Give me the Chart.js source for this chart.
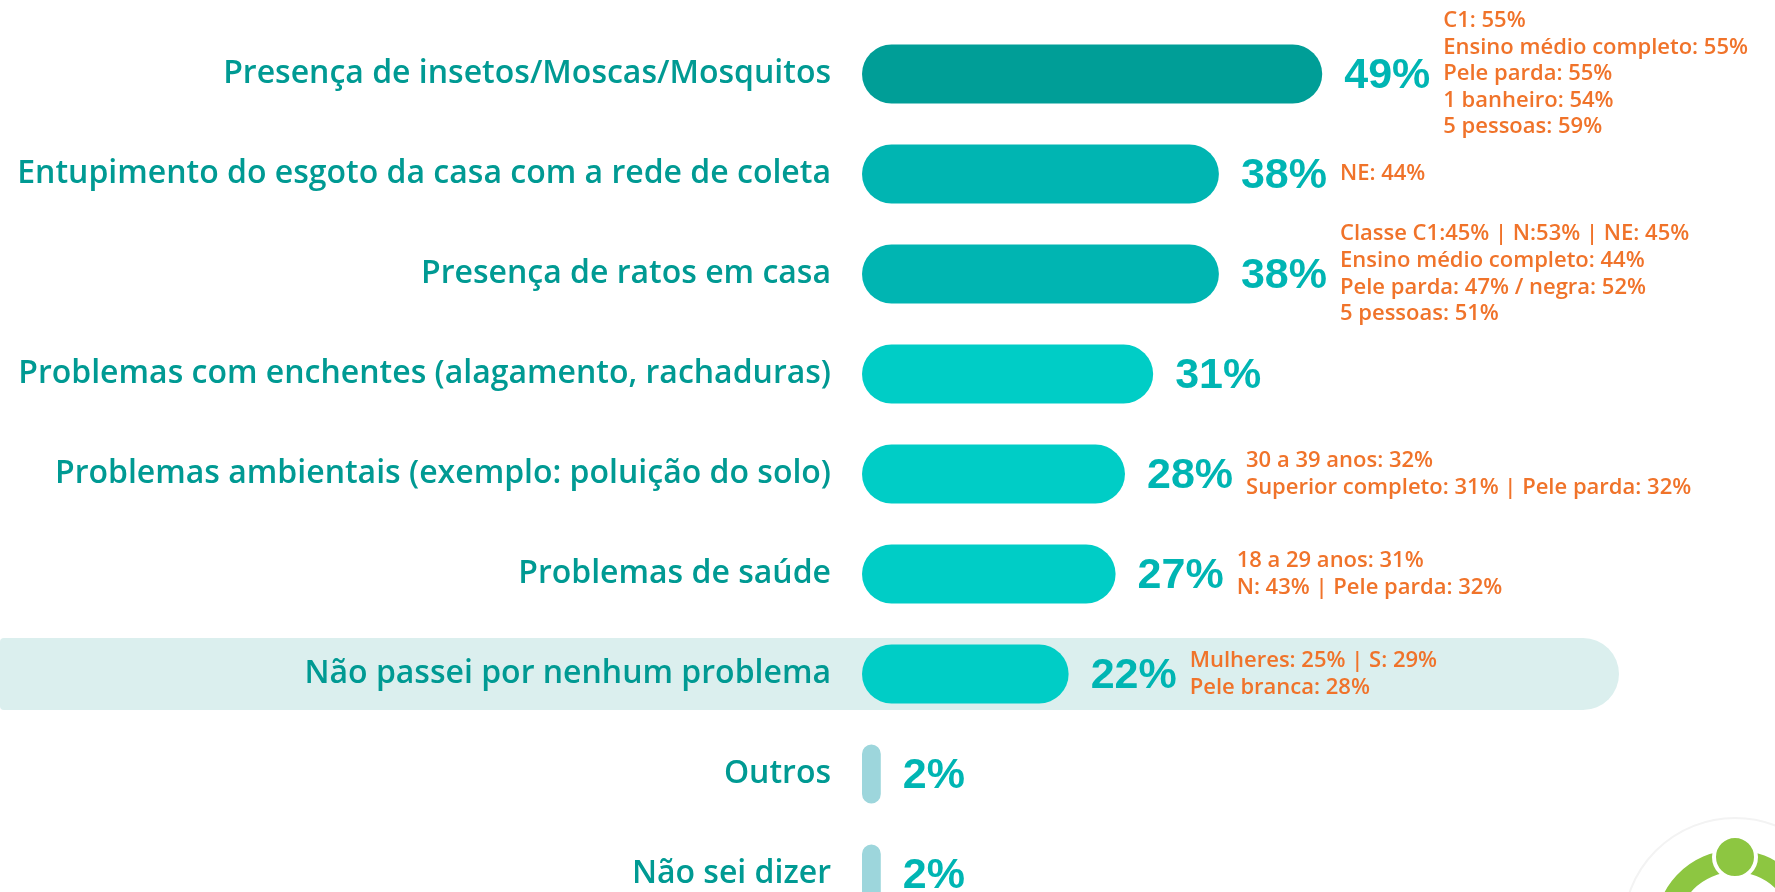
<!DOCTYPE html>
<html>
<head>
<meta charset="utf-8">
<script src="https://cdn.jsdelivr.net/npm/chart.js@4.4.1/dist/chart.umd.min.js"></script>
<style>
  html, body { margin: 0; padding: 0; background: #ffffff; overflow: hidden; }
  #wrap { width: 1775px; height: 892px; overflow: hidden; position: relative; }
  canvas { display: block; }
</style>
</head>
<body>
<div id="wrap"><canvas id="chart" width="1775" height="940"></canvas></div>
<script>
// ---- Data ----
const categories = [
  'Presença de insetos/Moscas/Mosquitos',
  'Entupimento do esgoto da casa com a rede de coleta',
  'Presença de ratos em casa',
  'Problemas com enchentes (alagamento, rachaduras)',
  'Problemas ambientais (exemplo: poluição do solo)',
  'Problemas de saúde',
  'Não passei por nenhum problema',
  'Outros',
  'Não sei dizer'
];
const values = [49, 38, 38, 31, 28, 27, 22, 2, 2];
const highlights = [
  ['C1: 55%', 'Ensino médio completo: 55%', 'Pele parda: 55%', '1 banheiro: 54%', '5 pessoas: 59%'],
  ['NE: 44%'],
  ['Classe C1:45% | N:53% | NE: 45%', 'Ensino médio completo: 44%', 'Pele parda: 47% / negra: 52%', '5 pessoas: 51%'],
  [],
  ['30 a 39 anos: 32%', 'Superior completo: 31% | Pele parda: 32%'],
  ['18 a 29 anos: 31%', 'N: 43% | Pele parda: 32%'],
  ['Mulheres: 25% | S: 29%', 'Pele branca: 28%'],
  [],
  []
];
const highlightedCategory = 'Não passei por nenhum problema';

// ---- Styles ----
const barColors = ['#009e97', '#00b5b2', '#00b5b2', '#00cdc6', '#00cdc6', '#00cdc6', '#00cdc6', '#9dd6dc', '#9dd6dc'];
const labelColor = '#009a93';
const valueColor = '#00b5b3';
const noteColor = '#f0732a';

const decorPlugin = {
  id: 'decor',
  beforeDraw(chart) {
    const ctx = chart.ctx;
    const y = chart.scales.y;
    const idx = categories.indexOf(highlightedCategory);
    if (idx < 0) return;
    const cy = y.getPixelForValue(idx);
    const h = 72;
    const right = chart.chartArea.right;
    ctx.save();
    ctx.fillStyle = '#dbefee';
    ctx.beginPath();
    ctx.roundRect(0, cy - h / 2, right, h, [4, h / 2, h / 2, 4]);
    ctx.fill();
    ctx.restore();
  },
  afterDatasetsDraw(chart) {
    const ctx = chart.ctx;
    const meta = chart.getDatasetMeta(0);
    ctx.save();
    meta.data.forEach((bar, i) => {
      const x0 = bar.x + 22;
      const cy = bar.y;
      ctx.font = 'bold 43px "Liberation Sans", Arial, sans-serif';
      ctx.fillStyle = valueColor;
      ctx.textAlign = 'left';
      ctx.textBaseline = 'middle';
      const txt = values[i] + '%';
      ctx.fillText(txt, x0, cy + 2);
      const w = ctx.measureText(txt).width;
      const notes = highlights[i] || [];
      if (notes.length) {
        ctx.font = '600 22px "Open Sans", Lato, sans-serif';
        ctx.fillStyle = noteColor;
        const lh = 26.6;
        const startY = cy - (notes.length - 1) * lh / 2;
        notes.forEach((line, k) => {
          ctx.fillText(line, x0 + w + 13, startY + k * lh);
        });
      }
    });
    ctx.restore();
  },
  afterDraw(chart) {
    // partial logo at bottom-right corner
    const ctx = chart.ctx;
    const cx = chart.width - 40, cy = 930;
    ctx.save();
    ctx.strokeStyle = '#f3f3f3';
    ctx.lineWidth = 2;
    ctx.beginPath();
    ctx.arc(cx, cy, 112, 0, Math.PI * 2);
    ctx.stroke();
    ctx.strokeStyle = '#8dc641';
    ctx.lineWidth = 22;
    ctx.beginPath();
    ctx.arc(cx, cy, 69, Math.PI * 1.12, Math.PI * 1.95);
    ctx.stroke();
    ctx.strokeStyle = '#a6dade';
    ctx.beginPath();
    ctx.arc(cx, cy, 69, Math.PI * 1.02, Math.PI * 1.1);
    ctx.stroke();
    ctx.fillStyle = '#8dc641';
    ctx.strokeStyle = '#ffffff';
    ctx.lineWidth = 4;
    ctx.beginPath();
    ctx.arc(cx, cy - 73, 21, 0, Math.PI * 2);
    ctx.fill();
    ctx.stroke();
    ctx.restore();
  }
};

new Chart(document.getElementById('chart'), {
  type: 'bar',
  data: {
    labels: categories,
    datasets: [{
      data: values,
      backgroundColor: barColors,
      borderRadius: 30,
      borderSkipped: false,
      barPercentage: 0.59,
      categoryPercentage: 1
    }]
  },
  options: {
    indexAxis: 'y',
    responsive: false,
    animation: false,
    devicePixelRatio: 1,
    layout: { padding: { top: 24, bottom: 16, left: 0, right: 156 } },
    plugins: { legend: { display: false }, tooltip: { enabled: false } },
    scales: {
      x: { display: false, min: 0, max: 80.6 },
      y: {
        grid: { display: false, drawTicks: false },
        border: { display: false },
        ticks: {
          autoSkip: false,
          color: labelColor,
          padding: 31,
          font: { family: '"Open Sans", Lato, sans-serif', size: 32, weight: '600' }
        },
        afterFit(scale) {
          scale.width = 862;
          scale.paddingTop = 0;
          scale.paddingBottom = 0;
        }
      }
    }
  },
  plugins: [decorPlugin]
});
</script>
</body>
</html>
